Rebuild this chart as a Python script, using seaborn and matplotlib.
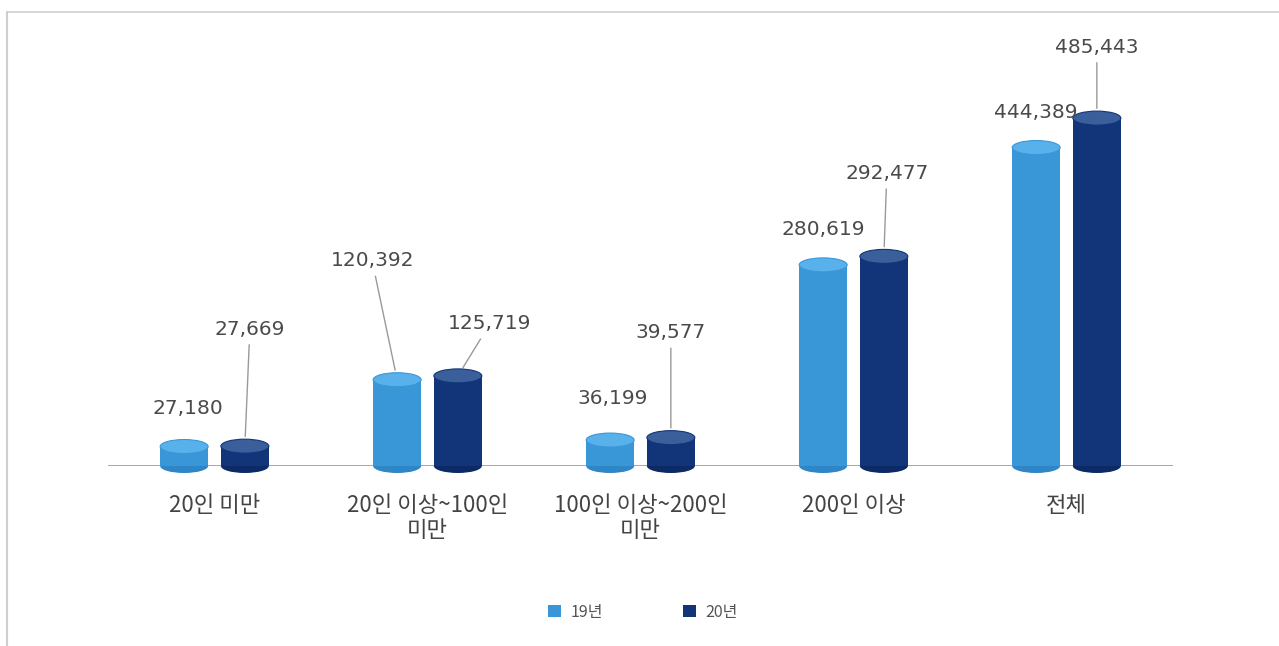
import matplotlib
matplotlib.use("Agg")
import matplotlib.pyplot as plt
from matplotlib.patches import Ellipse, Patch
from matplotlib.lines import Line2D
import seaborn as sns
import pandas as pd

# ---- data -------------------------------------------------------------
categories = ['20인 미만', '20인 이상~100인\n미만', '100인 이상~200인\n미만', '200인 이상', '전체']
years = ['19년', '20년']
values_19 = [27180, 120392, 36199, 280619, 444389]
values_20 = [27669, 125719, 39577, 292477, 485443]

# ---- styling ----------------------------------------------------------
body_colors = ['#3a97d7', '#12357a']
cap_colors = ['#58b1ea', '#3b5f9b']
base_colors = ['#2f86c6', '#0c2a66']
# label offsets (pixels) from the top of each bar: (dx, dy, leader line)
label_offsets = [
    [(4, 38, False), (5, 117, True)],
    [(-25, 119, True), (32, 52, True)],
    [(2, 42, False), (0, 105, True)],
    [(0, 35, False), (3, 83, True)],
    [(0, 35, False), (0, 71, True)],
]

sns.set_theme(style='white')
plt.rcParams['font.family'] = ['Noto Sans CJK KR', 'DejaVu Sans']

df = pd.DataFrame({
    'category': categories * 2,
    'year': [years[0]] * len(categories) + [years[1]] * len(categories),
    'value': values_19 + values_20,
})

fig = plt.figure(figsize=(12.79, 6.46), dpi=100)
ax = fig.add_axes([108 / 1279, (646 - 466) / 646, 1065 / 1279, 430 / 646])

sns.barplot(data=df, x='category', y='value', hue='year', order=categories,
            hue_order=years, palette=body_colors, width=0.57, gap=0.21,
            saturation=1, legend=False, ax=ax, zorder=2, linewidth=0)

ax.set_xlim(-0.5, len(categories) - 0.5)
ax.set_ylim(0, 600000)
for s in ax.spines.values():
    s.set_visible(False)
ax.set_yticks([])
ax.set_xlabel('')
ax.set_ylabel('')
ax.tick_params(axis='x', length=0, pad=20)
ax.set_xticks(range(len(categories)))
ax.set_xticklabels(categories, fontsize=16, color='#444444', linespacing=1.15)

ax.axhline(0, color='#a0a0a0', lw=1.3, zorder=1)

# ellipse height (data units) for a cap ~14 px tall
px_per_unit = ax.get_window_extent().height / (ax.get_ylim()[1] - ax.get_ylim()[0])
cap_h = 14 / px_per_unit

series_values = [values_19, values_20]
for hi, container in enumerate(ax.containers):
    for ci, bar in enumerate(container):
        x0 = bar.get_x()
        w = bar.get_width()
        h = bar.get_height()
        cx = x0 + w / 2
        ax.add_patch(Ellipse((cx, 0), w, cap_h, facecolor=base_colors[hi],
                             edgecolor='none', zorder=1.9, clip_on=False))
        ax.add_patch(Ellipse((cx, h), w, cap_h, facecolor=cap_colors[hi],
                             edgecolor=body_colors[hi], lw=0.8, zorder=3,
                             clip_on=False))
        dx, dy, leader = label_offsets[ci][hi]
        val = series_values[hi][ci]
        arrow = dict(arrowstyle='-', color='#9a9a9a', lw=1.0,
                     shrinkA=2, shrinkB=7) if leader else None
        ax.annotate(f'{val:,}', xy=(cx, h), xytext=(dx, dy),
                    textcoords='offset pixels', ha='center', va='center',
                    fontsize=14.5, color='#4a4a4a', family='DejaVu Sans',
                    arrowprops=arrow, annotation_clip=False, zorder=4)

# legend
handles = [Patch(facecolor=c, edgecolor='none') for c in body_colors]
fig.legend(handles, years, loc='center', bbox_to_anchor=(643 / 1279, 1 - 612 / 646),
           ncol=2, frameon=False, fontsize=11.5, handlelength=0.8, handleheight=0.8,
           handletextpad=0.6, columnspacing=5.0, labelcolor='#555555')

# panel frame
fig.add_artist(Line2D([7 / 1279, 1.0], [1 - 12 / 646] * 2, color='#cfcfcf', lw=1.2))
fig.add_artist(Line2D([7 / 1279] * 2, [0, 1 - 12 / 646], color='#cfcfcf', lw=1.5))

fig.savefig('out.png', dpi=100)
